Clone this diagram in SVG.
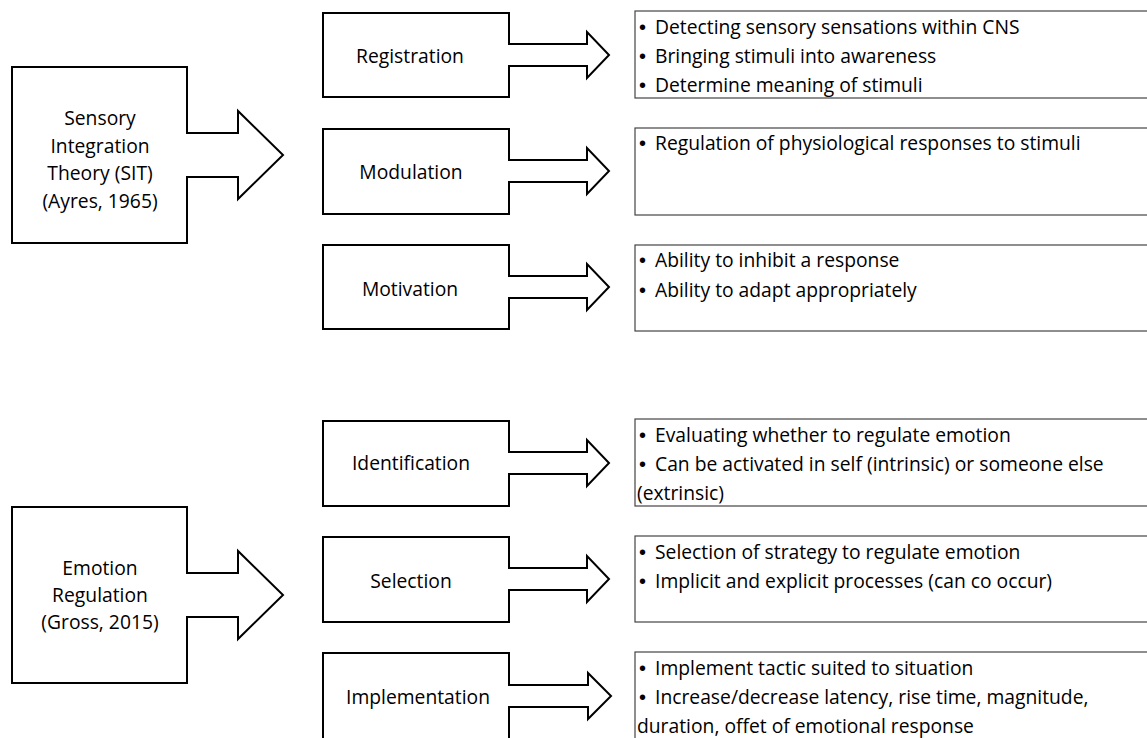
<svg xmlns="http://www.w3.org/2000/svg" width="1147" height="738" viewBox="0 0 1147 738">
<style>
.shape{fill:#fff;stroke:#000;stroke-width:2;stroke-linejoin:miter}
.box{fill:#fff;stroke:#444;stroke-width:1.2}
text{font-family:"Open Sans","Liberation Sans",Arial,sans-serif;font-size:19.3px;fill:#000}
.b{font-family:"Liberation Sans",Arial,sans-serif;font-size:20px}
.c{text-anchor:middle}
</style>
<rect width="1147" height="738" fill="#fff"/>
<g id="connectors"></g>
<g id="sit">
<polygon class="shape" points="12,67 187,67 187,133 238,133 238,111 283,155 238,199 238,177 187,177 187,243 12,243"/>
<text class="c" x="100" y="125">Sensory</text>
<text class="c" x="100" y="153">Integration</text>
<text class="c" x="100" y="180">Theory (SIT)</text>
<text class="c" x="100" y="208">(Ayres, 1965)</text>
</g>
<g id="er">
<polygon class="shape" points="12,507 187,507 187,573 238,573 238,551 283,595 238,639 238,617 187,617 187,683 12,683"/>
<text class="c" x="100" y="575">Emotion</text>
<text class="c" x="100" y="602">Regulation</text>
<text class="c" x="100" y="629">(Gross, 2015)</text>
</g>
<g id="registration">
<polygon class="shape" points="323,13 509,13 509,44 587,44 587,32 609,55 587,78 587,66 509,66 509,97 323,97"/>
<text class="c" x="410" y="63">Registration</text>
</g>
<g id="modulation">
<polygon class="shape" points="323,129 509,129 509,160 587,160 587,148 609,171 587,194 587,182 509,182 509,214 323,214"/>
<text class="c" x="411" y="179">Modulation</text>
</g>
<g id="motivation">
<polygon class="shape" points="323,245 509,245 509,276 587,276 587,264 609,287 587,310 587,298 509,298 509,329 323,329"/>
<text class="c" x="410" y="296">Motivation</text>
</g>
<g id="identification">
<polygon class="shape" points="323,421 509,421 509,452 587,452 587,440 609,463 587,486 587,474 509,474 509,506 323,506"/>
<text class="c" x="411" y="470">Identification</text>
</g>
<g id="selection">
<polygon class="shape" points="323,537 509,537 509,568 587,568 587,556 609,579 587,602 587,590 509,590 509,622 323,622"/>
<text class="c" x="411" y="588">Selection</text>
</g>
<g id="implementation">
<polygon class="shape" points="323,653 509,653 509,685 588,685 588,673 611,696 588,719 588,707 509,707 509,740 323,740"/>
<text class="c" x="418" y="704">Implementation</text>
</g>
<g id="registration-desc">
<rect class="box" x="635" y="11" width="520" height="87"/>
<text y="34"><tspan class="b" x="639">•</tspan><tspan x="655">Detecting sensory sensations within CNS</tspan></text>
<text y="63"><tspan class="b" x="639">•</tspan><tspan x="655">Bringing stimuli into awareness</tspan></text>
<text y="92"><tspan class="b" x="639">•</tspan><tspan x="655">Determine meaning of stimuli</tspan></text>
</g>
<g id="modulation-desc">
<rect class="box" x="635" y="128" width="520" height="87"/>
<text y="150"><tspan class="b" x="639">•</tspan><tspan x="655">Regulation of physiological responses to stimuli</tspan></text>
</g>
<g id="motivation-desc">
<rect class="box" x="635" y="245" width="520" height="86"/>
<text y="267"><tspan class="b" x="639">•</tspan><tspan x="655">Ability to inhibit a response</tspan></text>
<text y="297"><tspan class="b" x="639">•</tspan><tspan x="655">Ability to adapt appropriately</tspan></text>
</g>
<g id="identification-desc">
<rect class="box" x="635" y="419" width="520" height="87"/>
<text y="442"><tspan class="b" x="639">•</tspan><tspan x="655">Evaluating whether to regulate emotion</tspan></text>
<text y="471"><tspan class="b" x="639">•</tspan><tspan x="655">Can be activated in self (intrinsic) or someone else</tspan></text>
<text x="637" y="500">(extrinsic)</text>
</g>
<g id="selection-desc">
<rect class="box" x="635" y="536" width="520" height="86"/>
<text y="559"><tspan class="b" x="639">•</tspan><tspan x="655">Selection of strategy to regulate emotion</tspan></text>
<text y="588"><tspan class="b" x="639">•</tspan><tspan x="655">Implicit and explicit processes (can co occur)</tspan></text>
</g>
<g id="implementation-desc">
<rect class="box" x="635" y="652" width="520" height="100"/>
<text y="675"><tspan class="b" x="639">•</tspan><tspan x="655">Implement tactic suited to situation</tspan></text>
<text y="704"><tspan class="b" x="639">•</tspan><tspan x="655">Increase/decrease latency, rise time, magnitude,</tspan></text>
<text x="637" y="733">duration, offet of emotional response</text>
</g>
</svg>
